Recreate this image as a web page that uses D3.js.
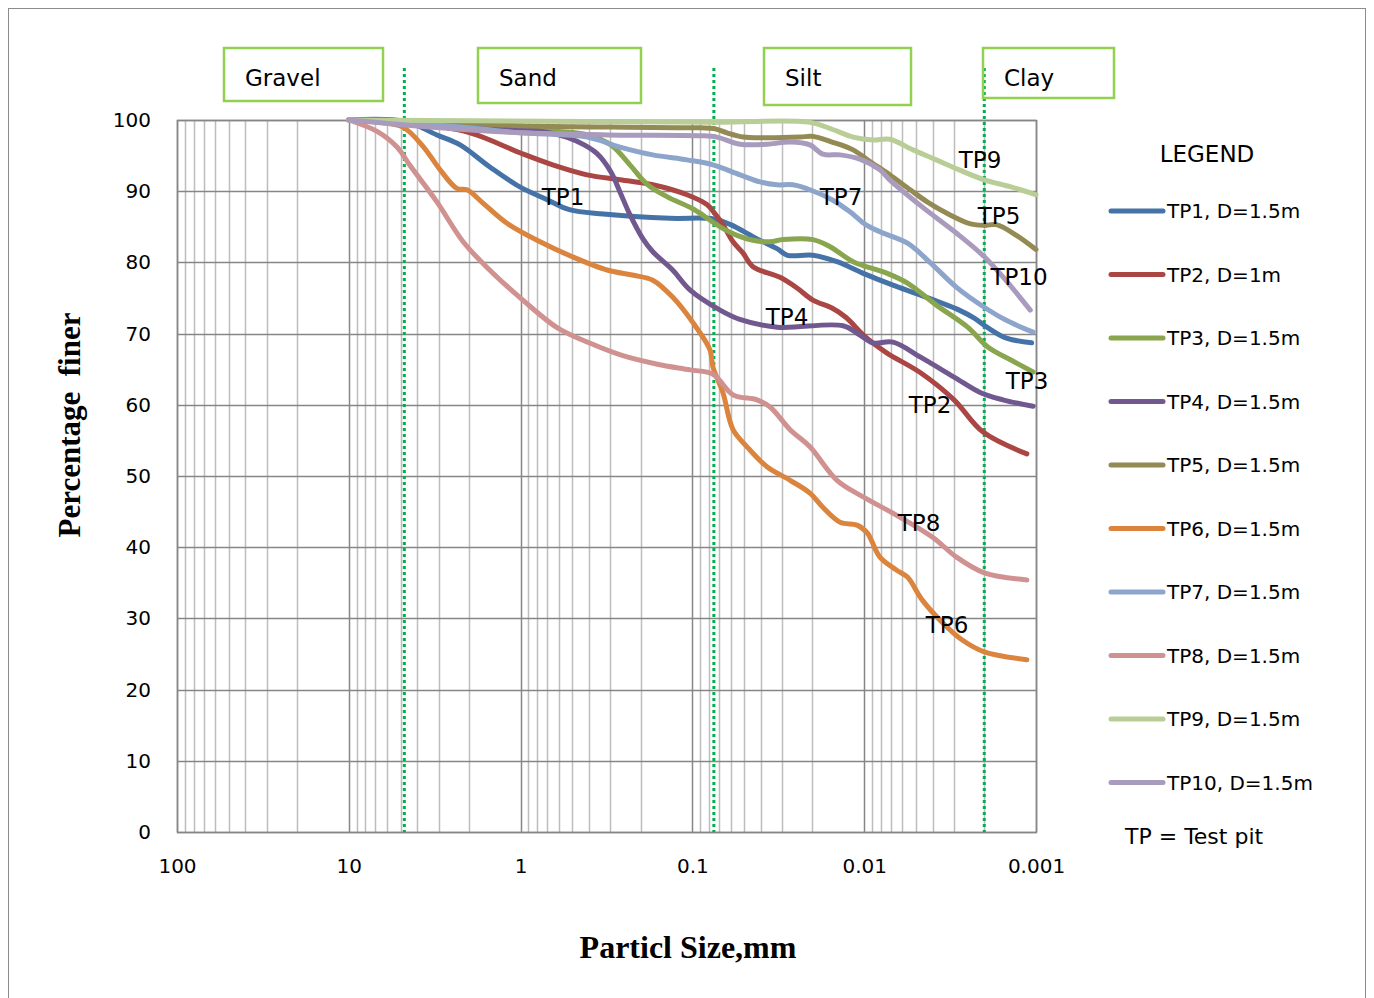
<!DOCTYPE html>
<html>
<head>
<meta charset="utf-8">
<script src="https://cdn.jsdelivr.net/npm/d3@7"></script>
<style>
  html, body { margin: 0; padding: 0; background: #fff; }
  svg { display: block; }
</style>
</head>
<body>
<svg id="chart" width="1374" height="998"></svg>
<script>
// ---------------- data (particle size mm, percentage finer) ----------------
const tp1 = [[10,100],[4.71,99.8],[3.07,97.9],[2.25,96.5],[1.51,93.4],[1.01,90.6],[0.70,88.8],[0.52,87.4],[0.33,86.8],[0.135,86.2],[0.075,86.1],[0.060,85.3],[0.042,83.3],[0.032,81.9],[0.028,81.0],[0.0199,81.0],[0.0144,80.1],[0.0102,78.5],[0.0068,76.8],[0.0047,75.4],[0.0028,73.3],[0.0023,72.2],[0.0019,70.8],[0.0015,69.4],[0.00106,68.7]];
const tp2 = [[10,100],[4.84,99.7],[1.97,98.2],[1.01,95.4],[0.65,93.7],[0.41,92.3],[0.264,91.6],[0.17,90.9],[0.1075,89.5],[0.082,88.1],[0.0759,87.2],[0.0664,85.3],[0.058,82.9],[0.0507,81.3],[0.0444,79.4],[0.0309,77.9],[0.0246,76.4],[0.0199,74.7],[0.0154,73.6],[0.0128,72.3],[0.0098,69.5],[0.0074,67.3],[0.0047,64.5],[0.0030,60.7],[0.00204,56.2],[0.00113,53.1]];
const tp3 = [[10,100],[4.75,99.7],[2,99.3],[1,98.8],[0.6,98.4],[0.41,97.9],[0.298,96.5],[0.231,93.7],[0.184,91.0],[0.14,89.2],[0.099,87.5],[0.069,85.0],[0.055,83.8],[0.0444,83.1],[0.0353,82.9],[0.0297,83.2],[0.0199,83.2],[0.0158,82.2],[0.0116,80.1],[0.0074,78.5],[0.0056,77.1],[0.0038,74.0],[0.0025,70.9],[0.0019,68.1],[0.0014,66.3],[0.00104,64.6]];
const tp4 = [[10,100],[4.75,99.8],[2,99.4],[1,98.8],[0.6,97.9],[0.47,97.0],[0.36,95.3],[0.298,92.7],[0.264,89.9],[0.231,86.7],[0.194,83.3],[0.17,81.5],[0.13,78.9],[0.103,76.1],[0.069,73.3],[0.053,72.0],[0.032,70.9],[0.0133,71.1],[0.0106,69.8],[0.0089,68.7],[0.0068,68.8],[0.0047,66.7],[0.0030,63.9],[0.0021,61.7],[0.00156,60.7],[0.00104,59.8]];
const tp5 = [[10,100],[4.75,99.8],[2,99.5],[1,99.2],[0.3,99.0],[0.09,98.9],[0.075,98.8],[0.063,98.2],[0.0507,97.6],[0.0368,97.5],[0.0236,97.6],[0.0199,97.7],[0.0154,96.9],[0.0116,95.8],[0.0093,94.2],[0.0071,92.3],[0.0054,90.2],[0.0043,88.5],[0.0033,86.9],[0.0024,85.4],[0.0020,85.2],[0.0017,85.3],[0.0013,83.8],[0.001,81.8]];
const tp6 = [[10,100],[6.85,99.7],[4.84,99.0],[3.7,96.3],[2.94,93.0],[2.35,90.4],[2.05,90.2],[1.65,88.3],[1.2,85.5],[0.77,82.9],[0.5,80.8],[0.31,78.9],[0.22,78.2],[0.17,77.5],[0.13,75.1],[0.099,71.5],[0.079,67.7],[0.0759,65.3],[0.0664,61.7],[0.058,56.5],[0.0481,54.1],[0.0368,51.3],[0.027,49.4],[0.0207,47.6],[0.0174,45.6],[0.0138,43.5],[0.011,43.1],[0.0096,42.0],[0.0081,38.6],[0.0065,36.8],[0.0056,35.8],[0.0046,32.6],[0.0035,29.4],[0.0027,27.0],[0.0020,25.3],[0.00113,24.2]];
const tp7 = [[10,100],[4.75,99.6],[2,98.9],[1,98.2],[0.41,97.6],[0.264,96.2],[0.17,95.1],[0.1075,94.4],[0.0759,93.7],[0.0528,92.3],[0.0404,91.3],[0.0322,90.9],[0.026,90.9],[0.0207,90.2],[0.0154,88.8],[0.0121,87.1],[0.0098,85.3],[0.0081,84.3],[0.0056,82.7],[0.0041,79.9],[0.0029,76.5],[0.0020,73.7],[0.0015,71.9],[0.00104,70.2]];
const tp8 = [[10,100],[6.85,98.4],[5.24,96.2],[4.4,93.6],[3.07,88.5],[2.16,82.9],[1.51,78.9],[0.97,74.7],[0.61,70.8],[0.39,68.6],[0.254,66.9],[0.16,65.7],[0.103,64.9],[0.0759,64.3],[0.058,61.4],[0.0421,60.7],[0.0353,59.7],[0.027,56.5],[0.0207,54.1],[0.0144,49.4],[0.0102,47.1],[0.0065,44.5],[0.004,41.4],[0.0029,38.6],[0.002,36.4],[0.00113,35.4]];
const tp9 = [[10,100],[2,99.9],[0.075,99.7],[0.021,99.7],[0.0154,98.7],[0.0116,97.6],[0.0089,97.2],[0.0071,97.3],[0.0052,95.8],[0.0038,94.4],[0.0028,93.0],[0.002,91.6],[0.0014,90.6],[0.001,89.5]];
const tp10 = [[10,100],[2.94,98.9],[1.01,98.2],[0.31,97.9],[0.09,97.8],[0.072,97.6],[0.0528,96.6],[0.0368,96.6],[0.027,96.9],[0.0207,96.5],[0.0174,95.2],[0.0138,95.1],[0.0106,94.5],[0.0081,93.0],[0.0071,91.6],[0.0046,87.8],[0.0029,84.1],[0.002,80.8],[0.0015,77.5],[0.00108,73.3]];

const seriesNames = ["TP1, D=1.5m","TP2, D=1m","TP3, D=1.5m","TP4, D=1.5m","TP5, D=1.5m","TP6, D=1.5m","TP7, D=1.5m","TP8, D=1.5m","TP9, D=1.5m","TP10, D=1.5m"];
const curveLabels = ["TP1","TP2","TP3","TP4","TP5","TP6","TP7","TP8","TP9","TP10"];
const colors = ["#4572A7","#AA4643","#89A54E","#71588F","#948A54","#DB843D","#8EA5CB","#D09291","#B9CD96","#A99BBD"];
const xTicks = [100, 10, 1, 0.1, 0.01, 0.001];
const xTickLabels = ["100","10","1","0.1","0.01","0.001"];
const yTicks = [0,10,20,30,40,50,60,70,80,90,100];
const boundaries = [4.75, 0.075, 0.002];
const soilClasses = ["Gravel","Sand","Silt","Clay"];

const allSeries = [tp1,tp2,tp3,tp4,tp5,tp6,tp7,tp8,tp9,tp10];

// ---------------- layout ----------------
const SANS = "'DejaVu Sans', sans-serif";
const SERIF = "'Liberation Serif', 'Times New Roman', serif";
const svg = d3.select("#chart");
const L = 177, R = 1036, T = 120, B = 832;
const x = d3.scaleLog().domain([100, 0.001]).range([L, R]);
const y = d3.scaleLinear().domain([0, 100]).range([B, T]);

// outer border
svg.append("rect").attr("x", 8.5).attr("y", 8.5).attr("width", 1357).attr("height", 1000)
  .attr("fill", "none").attr("stroke", "#8c8c8c").attr("stroke-width", 1);

// minor vertical grid
const minor = [];
[10, 1, 0.1, 0.01, 0.001].forEach(d => { for (let k = 2; k <= 9; k++) minor.push(k * d); });
svg.append("g").selectAll("line").data(minor).join("line")
  .attr("x1", d => Math.round(x(d)) + 0.5).attr("x2", d => Math.round(x(d)) + 0.5)
  .attr("y1", T).attr("y2", B)
  .attr("stroke", "#bdbdbd").attr("stroke-width", 1.5);

// horizontal grid
svg.append("g").selectAll("line").data(yTicks).join("line")
  .attr("x1", L).attr("x2", R)
  .attr("y1", d => Math.round(y(d)) + 0.5).attr("y2", d => Math.round(y(d)) + 0.5)
  .attr("stroke", "#868686").attr("stroke-width", 1.5);

// major vertical grid
svg.append("g").selectAll("line").data(xTicks).join("line")
  .attr("x1", d => Math.round(x(d)) + 0.5).attr("x2", d => Math.round(x(d)) + 0.5)
  .attr("y1", T).attr("y2", B)
  .attr("stroke", "#868686").attr("stroke-width", 1.5);

// plot frame
svg.append("rect").attr("x", L + 0.5).attr("y", T + 0.5).attr("width", R - L).attr("height", B - T)
  .attr("fill", "none").attr("stroke", "#868686").attr("stroke-width", 1.5);

// axes (labels only, Excel-like)
const xAxis = d3.axisBottom(x).tickValues(xTicks).tickFormat((d, i) => xTickLabels[i]).tickSize(0).tickPadding(27);
const gx = svg.append("g").attr("transform", `translate(0,${B})`).call(xAxis);
gx.select(".domain").remove();
gx.selectAll("text").style("font-size", "20px").style("font-family", SANS).attr("fill", "#000");

const yAxis = d3.axisLeft(y).tickValues(yTicks).tickSize(0).tickPadding(26);
const gy = svg.append("g").attr("transform", `translate(${L},0)`).call(yAxis);
gy.select(".domain").remove();
gy.selectAll("text").style("font-size", "20px").style("font-family", SANS).attr("fill", "#000");

// boundary dotted lines
svg.append("g").selectAll("line").data(boundaries).join("line")
  .attr("x1", d => x(d)).attr("x2", d => x(d))
  .attr("y1", 68).attr("y2", B)
  .attr("stroke", "#00b050").attr("stroke-width", 3).attr("stroke-dasharray", "3,3");

// soil class boxes
const boxGeom = [[224, 48, 159, 53], [478, 48, 163, 55], [764, 48, 147, 57], [983, 48, 131, 50]];
const boxes = svg.append("g");
soilClasses.forEach((name, i) => {
  const [bx, by, bw, bh] = boxGeom[i];
  boxes.append("rect").attr("x", bx).attr("y", by).attr("width", bw).attr("height", bh)
    .attr("fill", "none").attr("stroke", "#92d050").attr("stroke-width", 2.5);
  boxes.append("text").attr("x", bx + 21).attr("y", by + 38)
    .style("font-family", SANS).style("font-size", "23px").text(name);
});

// curves
const line = d3.line().x(d => x(d[0])).y(d => y(d[1])).curve(d3.curveCatmullRom.alpha(0.5));
svg.append("g").selectAll("path").data(allSeries).join("path")
  .attr("d", d => line(d))
  .attr("fill", "none")
  .attr("stroke", (d, i) => colors[i])
  .attr("stroke-width", 5)
  .attr("stroke-linejoin", "round").attr("stroke-linecap", "round");

// curve labels (centre positions in pixels)
const labelPos = [[563,197],[930,405],[1027,381],[787,317],[999,216],[947,625],[841,197],[919,523],[980,160],[1019,277]];
svg.append("g").selectAll("text").data(curveLabels).join("text")
  .attr("x", (d, i) => labelPos[i][0]).attr("y", (d, i) => labelPos[i][1])
  .attr("text-anchor", "middle").attr("dominant-baseline", "central")
  .style("font-family", SANS).style("font-size", "23px").text(d => d);

// legend
const lg = svg.append("g");
lg.append("text").attr("x", 1207).attr("y", 162).attr("text-anchor", "middle")
  .style("font-family", SANS).style("font-size", "23px").text("LEGEND");
seriesNames.forEach((name, i) => {
  const yy = 211 + i * 63.5;
  lg.append("line").attr("x1", 1111).attr("x2", 1163).attr("y1", yy).attr("y2", yy)
    .attr("stroke", colors[i]).attr("stroke-width", 5).attr("stroke-linecap", "round");
  lg.append("text").attr("x", 1167).attr("y", yy).attr("dominant-baseline", "central")
    .style("font-family", SANS).style("font-size", "20px").text(name);
});
lg.append("text").attr("x", 1125).attr("y", 844)
  .style("font-family", SANS).style("font-size", "22px").text("TP = Test pit");

// axis titles
svg.append("text").attr("x", 688).attr("y", 958).attr("text-anchor", "middle")
  .style("font-family", SERIF).style("font-weight", "bold").style("font-size", "32px")
  .text("Particl Size,mm");
svg.append("text").attr("transform", "translate(80,425) rotate(-90)").attr("text-anchor", "middle")
  .style("font-family", SERIF).style("font-weight", "bold").style("font-size", "31px")
  .style("white-space", "pre")
  .text("Percentage  finer");
</script>
</body>
</html>
